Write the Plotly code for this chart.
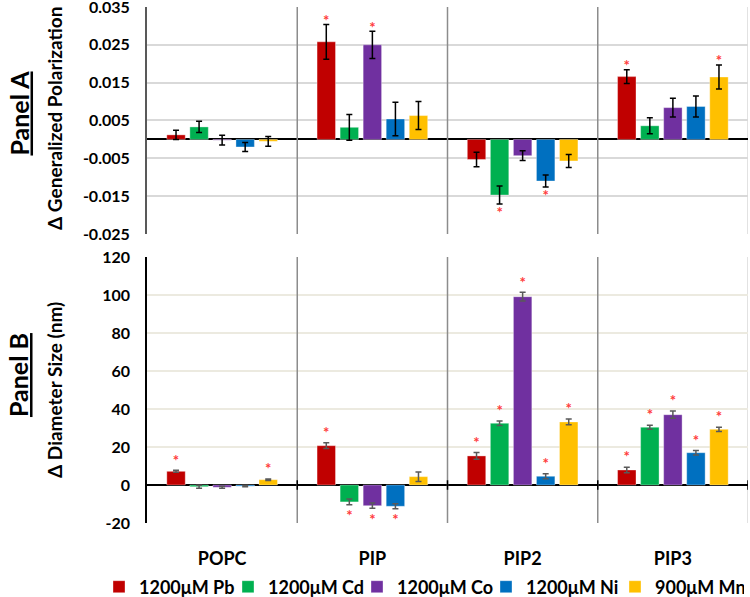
import plotly.graph_objects as go
from plotly.subplots import make_subplots

categories = ["POPC", "PIP", "PIP2", "PIP3"]
series_names = ["1200μM Pb", "1200μM Cd", "1200μM Co", "1200μM Ni", "900μM Mn"]
colors = ["#C00000", "#00B050", "#7030A0", "#0070C0", "#FFC000"]

# Panel A: delta generalized polarization
gp_pb = [0.0012, 0.0258, -0.0053, 0.0166]
gp_cd = [0.0033, 0.0032, -0.0147, 0.0036]
gp_co = [-0.0002, 0.0250, -0.0043, 0.0084]
gp_ni = [-0.0020, 0.0054, -0.0110, 0.0087]
gp_mn = [-0.0005, 0.0063, -0.0057, 0.0165]
gp_err_pb = [0.0012, 0.0046, 0.0019, 0.0018]
gp_err_cd = [0.0015, 0.0034, 0.0024, 0.0021]
gp_err_co = [0.0013, 0.0036, 0.0013, 0.0025]
gp_err_ni = [0.0012, 0.0044, 0.0016, 0.0028]
gp_err_mn = [0.0013, 0.0037, 0.0017, 0.0032]
gp_sig_pb = [False, True, False, True]
gp_sig_cd = [False, False, True, False]
gp_sig_co = [False, True, False, False]
gp_sig_ni = [False, False, True, False]
gp_sig_mn = [False, False, False, True]

# Panel B: delta diameter size (nm)
d_pb = [7.2, 20.7, 15.3, 7.9]
d_cd = [-0.9, -8.9, 32.5, 30.4]
d_co = [-1.2, -10.9, 99.1, 37.0]
d_ni = [-0.6, -11.2, 4.6, 17.0]
d_mn = [2.8, 4.4, 33.2, 29.3]
d_err_pb = [0.5, 1.5, 1.8, 1.5]
d_err_cd = [0.8, 1.5, 1.2, 1.1]
d_err_co = [0.5, 1.4, 2.3, 1.9]
d_err_ni = [0.3, 1.3, 1.3, 1.2]
d_err_mn = [0.4, 2.5, 1.5, 1.1]
d_sig_pb = [True, True, True, True]
d_sig_cd = [False, True, True, True]
d_sig_co = [False, True, True, True]
d_sig_ni = [False, True, True, True]
d_sig_mn = [True, False, True, True]

gp_ticks = [0.035, 0.025, 0.015, 0.005, -0.005, -0.015, -0.025]
gp_ticktext = ["0.035", "0.025", "0.015", "0.005", "-0.005", "-0.015", "-0.025"]
d_ticks = [120, 100, 80, 60, 40, 20, 0, -20]
d_ticktext = ["120", "100", "80", "60", "40", "20", "0", "-20"]

gp_vals = [gp_pb, gp_cd, gp_co, gp_ni, gp_mn]
gp_errs = [gp_err_pb, gp_err_cd, gp_err_co, gp_err_ni, gp_err_mn]
gp_sigs = [gp_sig_pb, gp_sig_cd, gp_sig_co, gp_sig_ni, gp_sig_mn]
d_vals = [d_pb, d_cd, d_co, d_ni, d_mn]
d_errs = [d_err_pb, d_err_cd, d_err_co, d_err_ni, d_err_mn]
d_sigs = [d_sig_pb, d_sig_cd, d_sig_co, d_sig_ni, d_sig_mn]

FONT = "Lato"
STAR = "#FF3B3B"

fig = make_subplots(rows=2, cols=1)

def star_y(vals, errs, sigs, up, down):
    out = []
    for v, e, s in zip(vals, errs, sigs):
        if not s:
            out.append(None)
        elif v >= 0:
            out.append(v + e + up)
        else:
            out.append(v - e - down)
    return out

for i in range(5):
    fig.add_trace(go.Bar(
        x=categories, y=gp_vals[i], name=series_names[i],
        marker=dict(color=colors[i], line=dict(color="rgba(255,255,255,0.35)", width=1)),
        error_y=dict(type="data", array=gp_errs[i], color="#000000", thickness=1.5, width=3),
        showlegend=True, legendgroup=series_names[i],
    ), row=1, col=1)
for i in range(5):
    fig.add_trace(go.Bar(
        x=categories, y=d_vals[i], name=series_names[i],
        marker=dict(color=colors[i], line=dict(color="rgba(255,255,255,0.35)", width=1)),
        error_y=dict(type="data", array=d_errs[i], color="#595959", thickness=1.5, width=3),
        showlegend=False, legendgroup=series_names[i],
    ), row=2, col=1)
for i in range(5):
    fig.add_trace(go.Scatter(
        x=categories, y=star_y(gp_vals[i], gp_errs[i], gp_sigs[i], 0.0006, 0.0026),
        mode="text", text="*", textposition="middle center",
        textfont=dict(color=STAR, size=15, family=FONT),
        showlegend=False, hoverinfo="skip",
    ), row=1, col=1)
for i in range(5):
    fig.add_trace(go.Scatter(
        x=categories, y=star_y(d_vals[i], d_errs[i], d_sigs[i], 4.5, 6.8),
        mode="text", text="*", textposition="middle center",
        textfont=dict(color=STAR, size=15, family=FONT),
        showlegend=False, hoverinfo="skip",
    ), row=2, col=1)

shapes = []
for ax, yd in (("x", "y domain"), ("x2", "y2 domain")):
    for b in (0.5, 1.5, 2.5):
        shapes.append(dict(type="line", xref=ax, yref=yd, x0=b, x1=b, y0=0, y1=1,
                           line=dict(color="#8C8C8C", width=1.5), layer="above"))
    shapes.append(dict(type="line", xref=ax, yref=yd, x0=3.5, x1=3.5, y0=0, y1=1,
                       line=dict(color="#D9D9D9", width=1.5), layer="below"))
for b in (0.5, 1.5, 2.5, 3.5):
    shapes.append(dict(type="line", xref="x2", yref="y2", x0=b, x1=b, y0=-2.5, y1=2.5,
                       line=dict(color="#000000", width=1.5), layer="above"))

ann = [
    dict(text="<u>Panel A</u>", x=-0.2146, y=0.7936, font=dict(size=25)),
    dict(text="Δ Generalized Polarization", x=-0.153, y=0.783, font=dict(size=19)),
    dict(text="<u>Panel B</u>", x=-0.2146, y=0.2868, font=dict(size=25)),
    dict(text="Δ Diameter Size (nm)", x=-0.153, y=0.2578, font=dict(size=19)),
]
for a in ann:
    a.update(xref="paper", yref="paper", textangle=-90, showarrow=False,
             xanchor="center", yanchor="middle")
    a["font"].update(family=FONT, color="#000000", weight="bold")

fig.update_layout(
    width=750, height=597,
    margin=dict(l=147, r=2, t=7, b=74, autoexpand=False),
    paper_bgcolor="white", plot_bgcolor="white",
    font=dict(family=FONT, color="#000000", size=16, weight="bold"),
    barmode="group", bargap=0.233, bargroupgap=0.2,
    scattermode="group", scattergap=0.233,
    shapes=shapes, annotations=ann,
    legend=dict(orientation="h", xref="paper", yref="paper",
                x=(99 - 147) / 601, y=(523 - 587) / 516, xanchor="left", yanchor="middle",
                font=dict(size=18, family=FONT, weight="bold"),
                itemwidth=30, entrywidth=84, entrywidthmode="pixels", tracegroupgap=0,
                bgcolor="rgba(0,0,0,0)"),
    showlegend=True,
)
fig.update_xaxes(range=[-0.5, 3.5], showgrid=False, zeroline=False, showline=False, ticks="")
fig.update_layout(
    xaxis=dict(showticklabels=False),
    xaxis2=dict(showticklabels=True, tickfont=dict(size=18, family=FONT, weight="bold"),
                ticklabelstandoff=23, ticklabeloverflow="allow"),
    yaxis=dict(domain=[0.5601, 1.0], range=[-0.025, 0.035], tickvals=gp_ticks, ticktext=gp_ticktext,
               showgrid=True, gridcolor="#D9D9D9", gridwidth=1.5,
               zeroline=True, zerolinecolor="#000000", zerolinewidth=1.5,
               showline=True, linecolor="#595959", linewidth=2,
               tickfont=dict(size=16, family=FONT, weight="bold"), ticklabelstandoff=12,
               ticklabeloverflow="allow"),
    yaxis2=dict(domain=[0.0, 0.5155], range=[-20, 120], tickvals=d_ticks, ticktext=d_ticktext,
                showgrid=True, gridcolor="#ECEAE0", gridwidth=1.5,
                zeroline=True, zerolinecolor="#000000", zerolinewidth=1.5,
                showline=True, linecolor="#000000", linewidth=1.5,
                tickfont=dict(size=16, family=FONT, weight="bold"), ticklabelstandoff=12,
                ticklabeloverflow="allow"),
)

fig.write_html("out.html", config={"displayModeBar": False},
               post_script="document.body.style.margin='0';document.body.style.overflow='hidden';")
